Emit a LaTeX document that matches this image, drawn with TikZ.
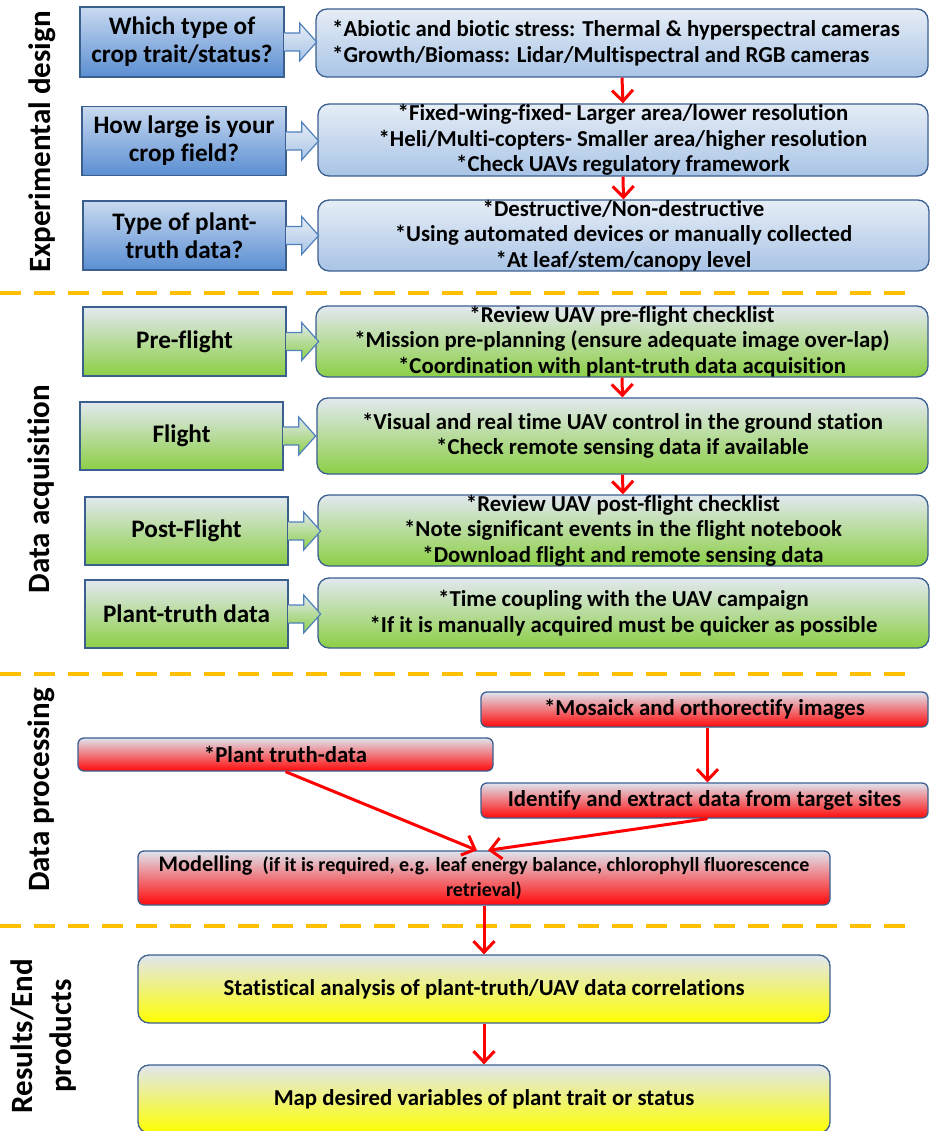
\documentclass[tikz,border=0pt]{standalone}
\usepackage{fontspec}
\setmainfont{Carlito}[Ligatures={NoCommon}]
\usetikzlibrary{arrows.meta,backgrounds}
\definecolor{bordercol}{HTML}{3B5F8F}
\definecolor{arrowcol}{HTML}{4F81BD}
\definecolor{qtop}{HTML}{C9DAF0}
\definecolor{qbot}{HTML}{5A8ED2}
\definecolor{rtop}{HTML}{E6EDF6}
\definecolor{rbot}{HTML}{A9C4E6}
\definecolor{gtop}{HTML}{E2E8F0}
\definecolor{gbot}{HTML}{8CCF45}
\definecolor{ptop}{HTML}{DFE4EE}
\definecolor{pbot}{HTML}{FF0A0A}
\definecolor{ytop}{HTML}{E0E6EF}
\definecolor{ybot}{HTML}{FFFF00}
\definecolor{dashcol}{HTML}{FFC000}
\definecolor{redline}{HTML}{FF0000}
\tikzset{
  base/.style={draw=bordercol, line width=1.3pt, align=center, inner sep=0pt, text=black},
  qbox/.style={base, top color=qtop, bottom color=qbot, font=\bfseries\fontsize{25.2}{28}\selectfont},
  gbox/.style={base, top color=gtop, bottom color=gbot, font=\bfseries\fontsize{25.2}{28}\selectfont},
  rbox/.style={base, rounded corners=11pt, top color=rtop, bottom color=rbot, font=\bfseries\fontsize{22.8}{25.5}\selectfont},
  grbox/.style={base, rounded corners=11pt, top color=gtop, bottom color=gbot, font=\bfseries\fontsize{22.8}{25.5}\selectfont},
  pbox/.style={base, rounded corners=6pt, top color=ptop, bottom color=pbot, font=\bfseries\fontsize{22.8}{25}\selectfont},
  ybox/.style={base, rounded corners=11pt, top color=ytop, bottom color=ybot, font=\bfseries\fontsize{22.8}{25}\selectfont},
  seclabel/.style={rotate=90, align=center, font=\bfseries\fontsize{31}{39}\selectfont, inner sep=0pt},
  blockarrow/.style={draw=arrowcol, line width=1.2pt, top color=rtop, bottom color=rbot},
  gblockarrow/.style={draw=arrowcol, line width=1.2pt, top color=gtop, bottom color=gbot},
  redarrow/.style={draw=redline, line width=3pt, -{Straight Barb[length=11pt,width=21pt]}},
  sepline/.style={draw=dashcol, line width=4.5pt, dash pattern=on 21pt off 13pt}
}
\begin{document}
\begin{tikzpicture}[x=1pt,y=-1pt]
\useasboundingbox[fill=white] (0,0) rectangle (932,1131);
% separators
\coordinate (s1a) at (0,293); \coordinate (s1b) at (908,293);
\coordinate (s2a) at (0,674); \coordinate (s2b) at (908,674);
\coordinate (s3a) at (0,926); \coordinate (s3b) at (908,926);
\draw[sepline] (s1a) -- (s1b);
\draw[sepline] (s2a) -- (s2b);
\draw[sepline] (s3a) -- (s3b);
% section labels
\node[seclabel] (L1) at (42,142) {Experimental design};
\node[seclabel] (L2) at (41,489) {Data acquisition};
\node[seclabel] (L3) at (41,790) {Data processing};
\node[seclabel] (L4) at (44,1036) {Results/End\\products};
% experimental design
\node[qbox, minimum width=204pt, minimum height=70pt] (q1) at (182,42) {Which type of\\crop trait/status?};
\node[rbox, minimum width=612pt, minimum height=68pt, align=left] (r1) at (622,43) {*Abiotic and biotic stress: Thermal \& hyperspectral cameras\hspace*{12pt}\\*Growth/Biomass: Lidar/Multispectral and RGB cameras};
\node[qbox, minimum width=204pt, minimum height=69pt] (q2) at (184,141) {How large is your\\crop field?};
\node[rbox, minimum width=610pt, minimum height=72pt] (r2) at (623,140) {*Fixed-wing-fixed- Larger area/lower resolution\\*Heli/Multi-copters- Smaller area/higher resolution\\*Check UAVs regulatory framework};
\node[qbox, minimum width=203pt, minimum height=69pt] (q3) at (184.5,235.5) {Type of plant-\\truth data?};
\node[rbox, minimum width=611pt, minimum height=69pt] (r3) at (623.5,235.5) {*Destructive/Non-destructive\\*Using automated devices or manually collected\\*At leaf/stem/canopy level};
% data acquisition
\node[gbox, minimum width=203pt, minimum height=69pt] (g1) at (184.5,341.5) {Pre-flight};
\node[grbox, minimum width=612pt, minimum height=69pt] (r4) at (622,341.5) {*Review UAV pre-flight checklist\\*Mission pre-planning (ensure adequate image over-lap)\\*Coordination with plant-truth data acquisition};
\node[gbox, minimum width=203pt, minimum height=68pt] (g2) at (181.5,436) {Flight};
\node[grbox, minimum width=611pt, minimum height=76pt] (r5) at (622.5,436) {*Visual and real time UAV control in the ground station\\*Check remote sensing data if available};
\node[gbox, minimum width=203pt, minimum height=68pt] (g3) at (186.5,531) {Post-Flight};
\node[grbox, minimum width=610pt, minimum height=67pt] (r6) at (623,530.5) {*Review UAV post-flight checklist\\*Note significant events in the flight notebook\\*Download flight and remote sensing data};
\node[gbox, minimum width=203pt, minimum height=68pt] (g4) at (186.5,614) {Plant-truth data};
\node[grbox, minimum width=611pt, minimum height=70pt] (r7) at (623.5,613) {*Time coupling with the UAV campaign\\*If it is manually acquired must be quicker as possible};
% data processing
\node[pbox, minimum width=447pt, minimum height=35pt] (mos) at (704.5,709.5) {*Mosaick and orthorectify images};
\node[pbox, minimum width=415pt, minimum height=33pt] (ptd) at (285.5,754.5) {*Plant truth-data};
\node[pbox, minimum width=447pt, minimum height=35pt] (idn) at (704.5,800.5) {Identify and extract data from target sites};
\node[pbox, minimum width=692pt, minimum height=54pt] (mod) at (484,878) {{\fontsize{22.3}{25}\selectfont Modelling}\ \ {\fontsize{20}{25}\selectfont(if it is required, e.g. leaf energy balance, chlorophyll fluorescence}\\{\fontsize{20}{25}\selectfont retrieval)}};
% results
\node[ybox, minimum width=692pt, minimum height=68pt] (st) at (484,989) {Statistical analysis of plant-truth/UAV data correlations};
\node[ybox, minimum width=692pt, minimum height=68pt] (mp) at (484,1099) {Map desired variables of plant trait or status};
% block arrows
\foreach \q/\st in {q1/blockarrow,q2/blockarrow,q3/blockarrow,g1/gblockarrow,g2/gblockarrow,g3/gblockarrow,g4/gblockarrow}{
  \draw[\st] (\q.east) ++(0,-9) -- ++(15,0) -- ++(0,-10) -- ++(17,19) -- ++(-17,19) -- ++(0,-10) -- ++(-15,0);
}
% red arrows
\draw[redarrow] (r1.south) -- (r2.north);
\draw[redarrow] (r2.south) -- (r3.north);
\draw[redarrow] (r4.south) -- (r5.north);
\draw[redarrow] (r5.south) -- (r6.north);
\draw[redarrow] ([xshift=3pt]mos.south) -- ([xshift=3pt]idn.north);
\draw[redarrow] (ptd.south) -- ([xshift=-7pt]mod.north);
\draw[redarrow] ([xshift=3pt]idn.south) -- ([xshift=4pt]mod.north);
\draw[redarrow] (mod.south) -- (st.north);
\draw[redarrow] (st.south) -- (mp.north);
\end{tikzpicture}
\end{document}
